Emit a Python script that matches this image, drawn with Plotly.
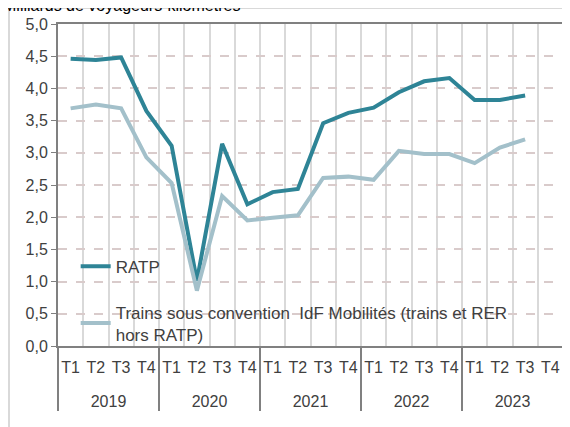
"""Trafic voyageurs IdF : RATP vs trains sous convention."""

import plotly.graph_objects as go

# "<br>" devant l'année : la 2e ligne d'étiquettes descend comme dans l'original
years = ["<br>2019"] * 4 + ["<br>2020"] * 4 + ["<br>2021"] * 4 + ["<br>2022"] * 4 + ["<br>2023"] * 4
quarters = ["T1", "T2", "T3", "T4"] * 5

ratp = [4.46, 4.44, 4.48, 3.65,
        3.11, 1.01, 3.14, 2.20,
        2.39, 2.44, 3.46, 3.62,
        3.70, 3.94, 4.11, 4.16,
        3.82, 3.82, 3.89, None]
trains = [3.69, 3.75, 3.69, 2.93,
          2.53, 0.86, 2.33, 1.95,
          1.99, 2.03, 2.61, 2.63,
          2.58, 3.03, 2.98, 2.98,
          2.84, 3.08, 3.21, None]

TXT = "#404040"
FONT = "Liberation Sans, Arial, sans-serif"

fig = go.Figure()
fig.add_trace(go.Scatter(
    x=[years, quarters], y=ratp, name="RATP", mode="lines",
    line=dict(color="#2E8496", width=4), legend="legend",
))
fig.add_trace(go.Scatter(
    x=[years, quarters], y=trains,
    name="Trains sous convention  IdF Mobilités (trains et RER<br>hors RATP)",
    mode="lines", line=dict(color="#A3C0CA", width=4), legend="legend2",
))

# la page ajoute une marge de 8 px : figure un peu plus petite que la fenêtre
fig.update_layout(
    width=562, height=419,
    margin=dict(l=50, r=5, t=16, b=81),
    paper_bgcolor="white", plot_bgcolor="white",
    separators=", ",
    font=dict(family=FONT, size=16, color=TXT),
    legend=dict(x=0.035, y=0.246, xanchor="left", yanchor="middle",
                bgcolor="rgba(0,0,0,0)", font=dict(size=17, color=TXT)),
    legend2=dict(x=0.035, y=0.16, xanchor="left", yanchor="top",
                 bgcolor="rgba(0,0,0,0)", font=dict(size=17, color=TXT)),
    showlegend=True,
)
fig.update_xaxes(
    type="multicategory", tickson="boundaries", range=[-0.5, 19.5],
    showgrid=True, gridcolor="#D9D9D9", gridwidth=2,
    showline=True, linecolor="#808080", linewidth=2, mirror=True,
    showdividers=True, dividercolor="#808080", dividerwidth=2,
    ticks="", tickangle=0, ticklabelstandoff=6,
    tickfont=dict(size=16, color=TXT),
)
fig.update_yaxes(
    range=[0, 5], dtick=0.5, tickformat=".1f",
    showgrid=True, gridcolor="#D9CBCB", gridwidth=1.5, griddash="dash",
    showline=True, linecolor="#808080", linewidth=2, mirror=True,
    ticks="outside", ticklen=5, tickcolor="#808080",
    tickfont=dict(size=16, color=TXT), zeroline=False,
)

# cadre extérieur du graphique (partiellement visible)
fig.add_shape(type="line", xref="paper", yref="paper",
              x0=-0.097, x1=1.02, y0=1.05, y1=1.05,
              line=dict(color="#D9D9D9", width=2))
fig.add_shape(type="line", xref="paper", yref="paper",
              x0=-0.097, x1=-0.097, y0=1.05, y1=-0.3,
              line=dict(color="#D9D9D9", width=2))
fig.add_annotation(
    text="Milliards de voyageurs-kilomètres", xref="paper", yref="paper",
    x=-0.112, y=1.024, xanchor="left", yanchor="bottom", showarrow=False,
    font=dict(size=16, color="#000000"),
)

fig.write_html("out.html")
